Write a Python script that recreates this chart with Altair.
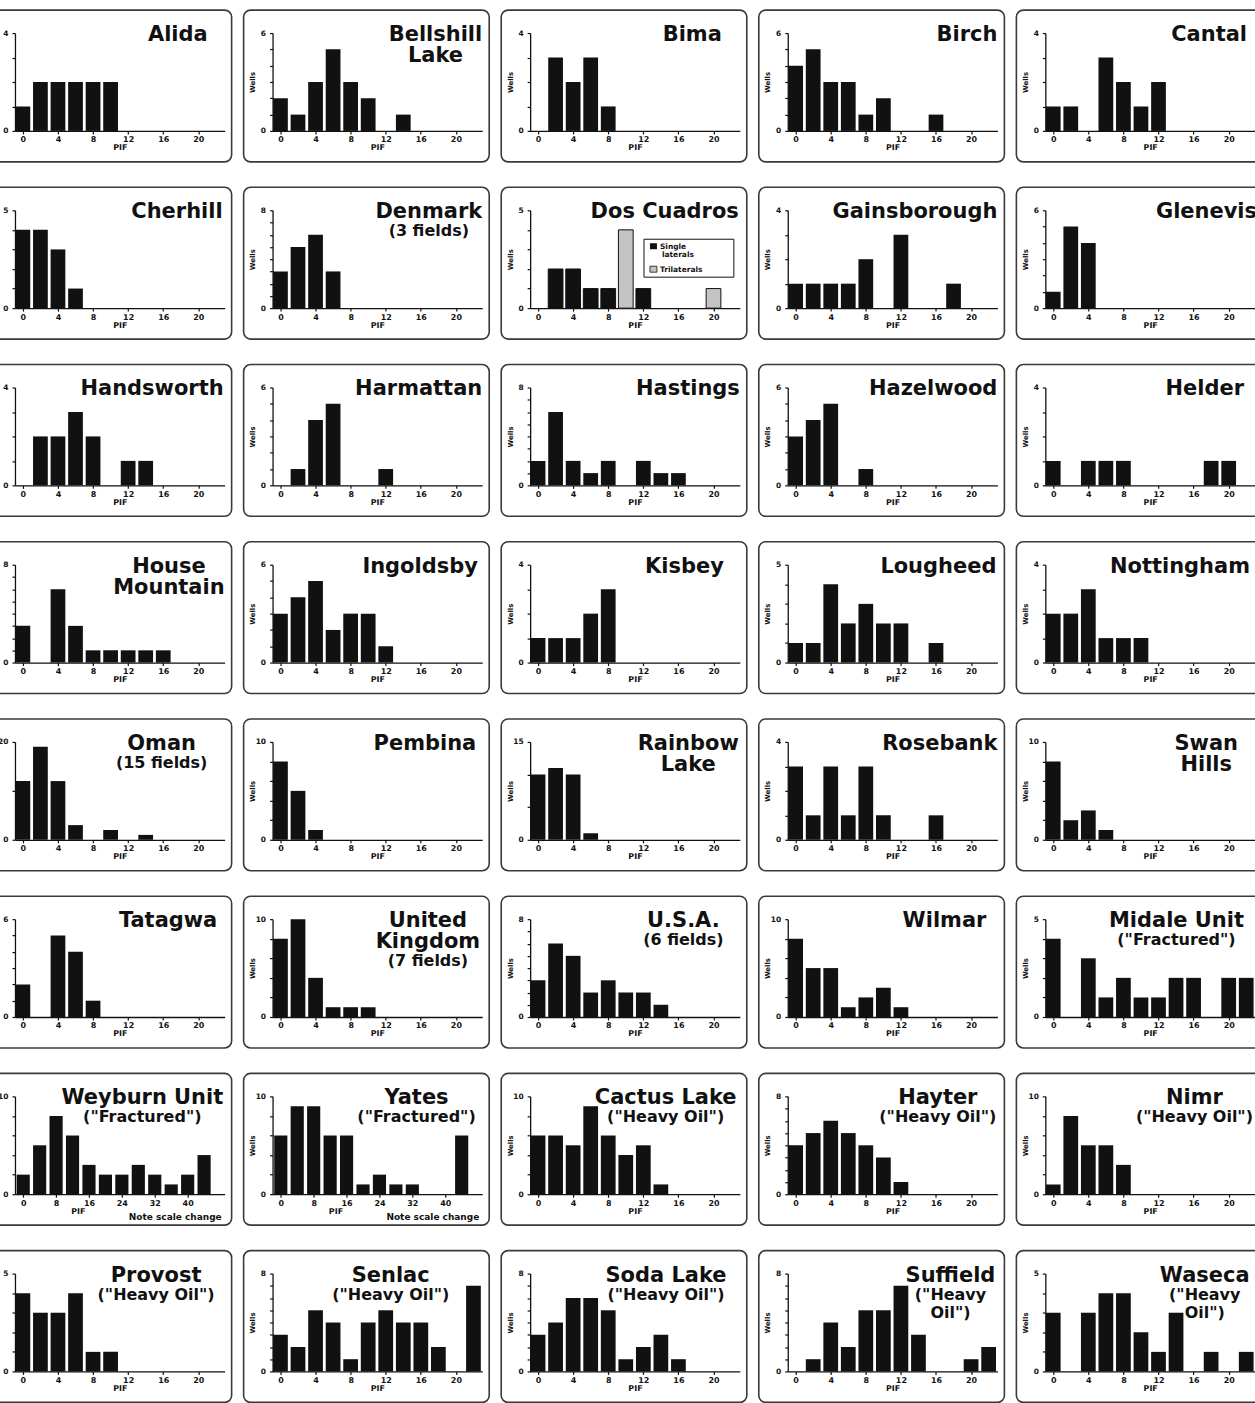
import altair as alt
import pandas as pd

# ---- wells per PIF class (bars centred on PIF 0, 2, 4, ...) ----
alida = [1, 2, 2, 2, 2, 2]
bellshill_lake = [2, 1, 3, 5, 3, 2, 0, 1]
bima = [0, 3, 2, 3, 1]
birch = [4, 5, 3, 3, 1, 2, 0, 0, 1]
cantal = [1, 1, 0, 3, 2, 1, 2]
cherhill = [4, 4, 3, 1]
denmark = [3, 5, 6, 3]
dos_cuadros_single = [0, 2, 2, 1, 1, 0, 1]
dos_cuadros_tri = [0, 0, 0, 0, 0, 4, 0, 0, 0, 0, 1]
gainsborough = [1, 1, 1, 1, 2, 0, 3, 0, 0, 1]
glenevis = [1, 5, 4]
handsworth = [0, 2, 2, 3, 2, 0, 1, 1]
harmattan = [0, 1, 4, 5, 0, 0, 1]
hastings = [2, 6, 2, 1, 2, 0, 2, 1, 1]
hazelwood = [3, 4, 5, 0, 1]
helder = [1, 0, 1, 1, 1, 0, 0, 0, 0, 1, 1]
house_mountain = [3, 0, 6, 3, 1, 1, 1, 1, 1]
ingoldsby = [3, 4, 5, 2, 3, 3, 1]
kisbey = [1, 1, 1, 2, 3]
lougheed = [1, 1, 4, 2, 3, 2, 2, 0, 1]
nottingham = [2, 2, 3, 1, 1, 1]
oman = [12, 19, 12, 3, 0, 2, 0, 1]
pembina = [8, 5, 1]
rainbow_lake = [10, 11, 10, 1]
rosebank = [3, 1, 3, 1, 3, 1, 0, 0, 1]
swan_hills = [8, 2, 3, 1]
tatagwa = [2, 0, 5, 4, 1]
united_kingdom = [8, 10, 4, 1, 1, 1]
usa = [3, 6, 5, 2, 3, 2, 2, 1]
wilmar = [8, 5, 5, 1, 2, 3, 1]
midale_unit = [4, 0, 3, 1, 2, 1, 1, 2, 2, 0, 2, 2]
# the two fractured carbonates use 4-unit PIF classes (0, 4, 8, ...)
weyburn_unit = [2, 5, 8, 6, 3, 2, 2, 3, 2, 1, 2, 4]
yates = [6, 9, 9, 6, 6, 1, 2, 1, 1, 0, 0, 6]
cactus_lake = [6, 6, 5, 9, 6, 4, 5, 1]
hayter = [4, 5, 6, 5, 4, 3, 1]
nimr = [1, 8, 5, 5, 3]
provost = [4, 3, 3, 4, 1, 1]
senlac = [3, 2, 5, 4, 1, 4, 5, 4, 4, 2, 0, 7]
soda_lake = [3, 4, 6, 6, 5, 1, 2, 3, 1]
suffield = [0, 1, 4, 2, 5, 5, 7, 3, 0, 0, 1, 2]
waseca = [3, 0, 3, 4, 4, 2, 1, 3, 0, 1, 0, 1]

pif_ticks = [0, 4, 8, 12, 16, 20]
pif_ticks_wide = [0, 8, 16, 24, 32, 40]

HEAVY = '("Heavy Oil")'
FRAC = '("Fractured")'

# name lines, note lines, counts, y max, y tick step, PIF class width,
# right edge of the name block inside the panel
fields = [
    ("Alida", [], alida, 4, 1, 2, 222),
    ("Bellshill\nLake", [], bellshill_lake, 6, 1, 2, 239),
    ("Bima", [], bima, 4, 1, 2, 221),
    ("Birch", [], birch, 6, 1, 2, 239),
    ("Cantal", [], cantal, 4, 1, 2, 231),
    ("Cherhill", [], cherhill, 5, 1, 2, 237),
    ("Denmark", ["(3 fields)"], denmark, 8, 1, 2, 239),
    ("Dos Cuadros", [], dos_cuadros_single, 5, 1, 2, 238),
    ("Gainsborough", [], gainsborough, 4, 1, 2, 239),
    ("Glenevis", [], glenevis, 6, 1, 2, 241),
    ("Handsworth", [], handsworth, 4, 1, 2, 238),
    ("Harmattan", [], harmattan, 6, 1, 2, 239),
    ("Hastings", [], hastings, 8, 1, 2, 239),
    ("Hazelwood", [], hazelwood, 6, 1, 2, 239),
    ("Helder", [], helder, 4, 1, 2, 228),
    ("House\nMountain", [], house_mountain, 8, 1, 2, 239),
    ("Ingoldsby", [], ingoldsby, 6, 1, 2, 238),
    ("Kisbey", [], kisbey, 4, 1, 2, 223),
    ("Lougheed", [], lougheed, 5, 1, 2, 238),
    ("Nottingham", [], nottingham, 4, 1, 2, 234),
    ("Oman", ["(15 fields)"], oman, 20, 10, 2, 222),
    ("Pembina", [], pembina, 10, 2, 2, 233),
    ("Rainbow\nLake", [], rainbow_lake, 15, 5, 2, 238),
    ("Rosebank", [], rosebank, 4, 1, 2, 239),
    ("Swan\nHills", [], swan_hills, 10, 2, 2, 222),
    ("Tatagwa", [], tatagwa, 6, 1, 2, 233),
    ("United\nKingdom", ["(7 fields)"], united_kingdom, 10, 2, 2, 237),
    ("U.S.A.", ["(6 fields)"], usa, 8, 1, 2, 223),
    ("Wilmar", [], wilmar, 10, 2, 2, 228),
    ("Midale Unit", [FRAC], midale_unit, 5, 1, 2, 228),
    ("Weyburn Unit", [FRAC], weyburn_unit, 10, 2, 4, 238),
    ("Yates", [FRAC], yates, 10, 2, 4, 233),
    ("Cactus Lake", [HEAVY], cactus_lake, 10, 2, 2, 236),
    ("Hayter", [HEAVY], hayter, 8, 1, 2, 238),
    ("Nimr", [HEAVY], nimr, 10, 2, 2, 237),
    ("Provost", [HEAVY], provost, 5, 1, 2, 229),
    ("Senlac", [HEAVY], senlac, 8, 1, 2, 206),
    ("Soda Lake", [HEAVY], soda_lake, 8, 1, 2, 226),
    ("Suffield", ['("Heavy', 'Oil")'], suffield, 8, 1, 2, 238),
    ("Waseca", ['("Heavy', 'Oil")'], waseca, 5, 1, 2, 234),
]

FONT = "DejaVu Sans"
INK = "#111111"

# panel geometry (pixels inside each framed panel)
W, H = 246, 152
XL, XR = 29, W - 7
YB, YT = 121, 23
BIG, SMALL = 21, 16

# DejaVu Sans Bold advance widths (em) for centring the name blocks
ADV = {" ": .348, "(": .457, ")": .457, '"': .521, ".": .380,
       "A": .774, "B": .762, "C": .734, "D": .830, "G": .821, "H": .837,
       "K": .775, "L": .637, "M": .995, "N": .837, "O": .850, "P": .733,
       "R": .770, "S": .720, "T": .682, "U": .812, "W": 1.103, "Y": .724,
       "F": .683, "a": .675, "b": .716, "c": .593, "d": .716, "e": .678,
       "f": .435, "g": .716, "h": .712, "i": .343, "k": .665, "l": .343,
       "m": 1.042, "n": .712, "o": .687, "p": .716, "r": .493, "s": .595,
       "t": .478, "u": .712, "v": .652, "w": .924, "y": .652, "z": .582}


def text_w(s, size):
    return sum(ADV.get(ch, .696) for ch in s) * size


ONE = pd.DataFrame({"k": [0]})


def label(txt, size, x, y, align="center", weight="bold"):
    return alt.Chart(ONE).mark_text(
        text=txt, font=FONT, fontSize=size, fontWeight=weight, align=align,
        baseline="alphabetic", color=INK,
    ).encode(x=alt.value(x), y=alt.value(y))


def name_block(name, notes, right):
    big = name.split("\n")
    widths = [text_w(t, BIG) for t in big] + [text_w(t, SMALL) for t in notes]
    cx = right - max(widths) / 2
    out, y = [], 31
    for i, t in enumerate(big):
        if i:
            y += 21
        out.append(label(t, BIG, cx, y))
    for t in notes:
        y += 18
        out.append(label(t, SMALL, cx, y))
    return out


def bar_rows(counts, step, kind):
    half = 0.42 * step if step == 2 else 0.4 * step
    rows = []
    for i, n in enumerate(counts):
        if n > 0:
            c = i * step
            rows.append({"lo": c - half, "hi": c + half, "base": 0, "wells": n, "kind": kind})
    return rows


def panel(name, notes, counts, ymax, ystep, step, right):
    wide = step == 4
    rows = bar_rows(counts, step, "single")
    if name == "Dos Cuadros":
        rows += bar_rows(dos_cuadros_tri, 2, "tri")
    df = pd.DataFrame(rows)

    xdom = [-2, 49] if wide else [-0.9, 23]
    xaxis = alt.Axis(
        values=pif_ticks_wide if wide else pif_ticks, title="PIF",
        offset=YB - H, labelFlush=False, labelPadding=2, titlePadding=0,
        **({"titleX": 92} if wide else {}),
    )
    yaxis = alt.Axis(
        values=list(range(0, ymax + 1, ystep)), title="Wells", offset=-XL,
        labelExpr=f"datum.value == 0 || datum.value == {ymax} ? datum.label : ''",
        labelPadding=4, titleX=-17,
    )
    enc = dict(
        x=alt.X("lo:Q", scale=alt.Scale(domain=xdom, range=[XL, XR], nice=False, zero=False), axis=xaxis),
        x2="hi:Q",
        y=alt.Y("wells:Q", scale=alt.Scale(domain=[0, ymax], range=[YB, YT], nice=False), axis=yaxis),
        y2="base:Q",
    )
    if name == "Dos Cuadros":
        bars = alt.Chart(df).mark_bar(stroke=INK, strokeWidth=1).encode(
            color=alt.Color("kind:N", scale=alt.Scale(domain=["single", "tri"], range=[INK, "#c4c4c4"]), legend=None),
            **enc,
        )
    else:
        bars = alt.Chart(df).mark_bar(color=INK).encode(**enc)

    layers = [bars] + name_block(name, notes, right)

    if name == "Dos Cuadros":
        box = alt.Chart(ONE).mark_rect(fill="white", stroke=INK, strokeWidth=1).encode(
            x=alt.value(143), x2=alt.value(233), y=alt.value(52), y2=alt.value(90))
        sw1 = alt.Chart(ONE).mark_rect(fill=INK).encode(
            x=alt.value(149), x2=alt.value(156), y=alt.value(56), y2=alt.value(62))
        sw2 = alt.Chart(ONE).mark_rect(fill="#c4c4c4", stroke=INK, strokeWidth=0.8).encode(
            x=alt.value(149), x2=alt.value(156), y=alt.value(79), y2=alt.value(85))
        layers += [box, sw1, sw2,
                   label("Single", 7.5, 159, 62, align="left"),
                   label("laterals", 7.5, 161, 70, align="left"),
                   label("Trilaterals", 7.5, 159, 85, align="left")]
    if wide:
        layers.append(label("Note scale change", 9, W - 10, 147, align="right"))

    return alt.layer(*layers).properties(width=W, height=H)


panels = [panel(*f) for f in fields]

chart = (
    alt.concat(*panels, columns=5, spacing={"row": 25.5, "column": 12}, bounds="flush")
    .properties(padding={"left": -15, "top": 8, "right": -8, "bottom": 0}, background="white")
    .configure_view(stroke="#3a3a3a", strokeWidth=1.6, cornerRadius=7, fill="white")
    .configure_axis(
        grid=False, domainColor=INK, domainWidth=1.3, tickColor=INK, tickWidth=1.2, tickSize=3,
        labelFont=FONT, labelFontSize=8, labelFontWeight="bold", labelColor=INK, labelAngle=0,
        titleFont=FONT, titleFontSize=8, titleFontWeight="bold", titleColor=INK,
    )
    .configure_axisY(titleFontSize=7, labelFontSize=7.5)
)

chart.save("out.html", embed_options={"renderer": "svg", "actions": False})
